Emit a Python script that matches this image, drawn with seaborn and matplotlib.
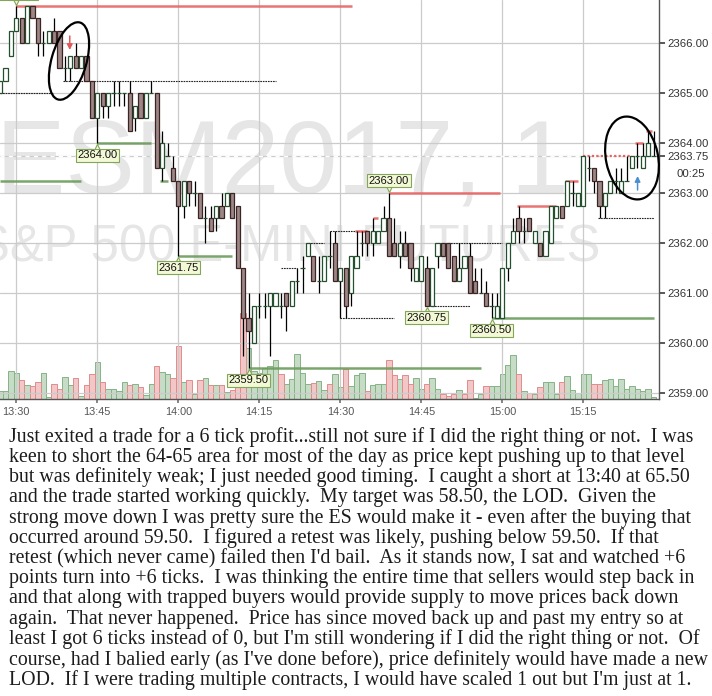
import pandas as pd
import seaborn as sns
import matplotlib.pyplot as plt
import matplotlib.transforms as mtransforms
from matplotlib.patches import Ellipse

# barras de 1 minuto, contadas a partir de 13:30 (ESM2017)
minutos = list(range(-3, 119))

abertura = [
    2365.0, 2365.25, 2365.75, 2366.25, 2366.5, 2366.0, 2366.75, 2366.5, 2366.0, 2366.0,
    2366.25, 2366.25, 2365.5, 2365.5, 2365.75, 2365.5, 2365.75, 2365.25, 2364.5, 2365.0,
    2364.75, 2365.0, 2365.0, 2365.0, 2365.0, 2364.5, 2365.0, 2364.5, 2365.0, 2365.0,
    2363.5, 2363.75, 2363.5, 2363.25, 2362.75, 2363.25, 2363.0, 2363.0, 2362.5, 2362.5,
    2362.5, 2362.75, 2362.75, 2363.0, 2362.75, 2361.5, 2360.5, 2360.0, 2360.75, 2360.75,
    2360.75, 2360.75, 2360.75, 2361.0, 2360.75, 2361.25, 2361.5, 2361.75, 2361.75, 2361.25,
    2361.25, 2361.75, 2362.0, 2361.25, 2361.5, 2361.0, 2361.5, 2362.0, 2362.25, 2362.0,
    2362.0, 2362.25, 2362.5, 2362.0, 2361.75, 2362.0, 2362.0, 2361.25, 2361.25, 2361.5,
    2360.75, 2361.75, 2362.0, 2362.0, 2361.75, 2361.25, 2361.5, 2361.75, 2361.25, 2361.0,
    2361.0, 2360.75, 2360.5, 2360.5, 2361.5, 2362.0, 2362.5, 2362.25, 2362.5, 2362.0,
    2362.0, 2361.75, 2362.0, 2362.5, 2362.75, 2362.75, 2363.0, 2362.75, 2362.75, 2363.5,
    2363.5, 2363.25, 2362.75, 2363.0, 2363.25, 2363.0, 2363.25, 2363.5, 2363.75, 2363.5,
    2363.75, 2363.75]
maxima = [
    2365.25, 2365.5, 2366.25, 2366.75, 2366.5, 2366.75, 2366.75, 2366.5, 2366.25, 2366.25,
    2366.5, 2366.25, 2365.75, 2365.75, 2366.0, 2365.75, 2365.75, 2365.25, 2365.0, 2365.0,
    2365.0, 2365.25, 2365.25, 2365.0, 2365.25, 2364.75, 2365.0, 2365.0, 2365.25, 2365.0,
    2364.25, 2364.0, 2363.75, 2363.25, 2363.25, 2363.25, 2363.25, 2363.0, 2362.75, 2362.75,
    2362.75, 2363.0, 2363.0, 2363.0, 2362.75, 2361.5, 2361.0, 2360.75, 2361.0, 2361.0,
    2361.0, 2361.0, 2361.0, 2361.0, 2361.25, 2361.5, 2361.75, 2362.0, 2361.75, 2361.75,
    2361.75, 2362.25, 2362.25, 2361.5, 2361.5, 2361.75, 2362.25, 2362.25, 2362.25, 2362.5,
    2362.25, 2362.75, 2363.0, 2362.5, 2362.25, 2362.25, 2362.0, 2361.5, 2361.75, 2361.75,
    2361.5, 2362.0, 2362.0, 2362.0, 2361.75, 2362.0, 2361.75, 2362.0, 2361.5, 2361.5,
    2361.25, 2361.0, 2361.0, 2361.5, 2362.0, 2362.5, 2362.75, 2362.5, 2362.5, 2362.25,
    2362.0, 2362.25, 2362.75, 2362.75, 2362.75, 2363.25, 2363.25, 2363.0, 2363.75, 2363.75,
    2363.5, 2363.25, 2363.0, 2363.25, 2363.5, 2363.5, 2363.75, 2363.75, 2364.0, 2364.0,
    2364.25, 2364.25]
minima = [
    2365.0, 2365.25, 2365.75, 2366.25, 2366.0, 2366.0, 2366.5, 2365.75, 2365.75, 2366.0,
    2366.0, 2365.5, 2365.25, 2365.25, 2365.5, 2365.5, 2365.25, 2364.5, 2364.0, 2364.5,
    2364.5, 2364.75, 2364.75, 2364.75, 2364.25, 2364.25, 2364.5, 2364.5, 2365.0, 2363.5,
    2363.25, 2363.75, 2363.25, 2361.75, 2362.5, 2362.75, 2362.75, 2362.5, 2362.0, 2362.25,
    2362.25, 2362.5, 2362.75, 2362.5, 2361.5, 2359.75, 2359.5, 2360.0, 2360.5, 2360.5,
    2359.75, 2360.75, 2360.5, 2360.25, 2360.75, 2361.0, 2361.0, 2361.75, 2361.25, 2361.0,
    2361.25, 2361.5, 2361.25, 2360.5, 2360.5, 2360.75, 2361.5, 2361.75, 2361.75, 2361.75,
    2362.0, 2362.25, 2361.75, 2361.75, 2361.5, 2361.75, 2361.25, 2361.25, 2361.25, 2360.75,
    2360.75, 2361.5, 2361.75, 2361.5, 2361.25, 2361.25, 2361.5, 2361.0, 2361.0, 2361.0,
    2360.75, 2360.5, 2360.5, 2360.5, 2361.25, 2362.0, 2362.0, 2362.0, 2362.25, 2362.0,
    2361.75, 2361.75, 2362.0, 2362.5, 2362.5, 2362.75, 2362.75, 2362.75, 2362.75, 2363.25,
    2363.0, 2362.5, 2362.5, 2363.0, 2363.0, 2363.0, 2363.25, 2363.5, 2363.5, 2363.5,
    2363.75, 2363.75]
fechamento = [
    2365.25, 2365.5, 2366.25, 2366.5, 2366.0, 2366.75, 2366.5, 2366.0, 2366.0, 2366.25,
    2366.0, 2365.5, 2365.5, 2365.75, 2365.5, 2365.75, 2365.25, 2364.5, 2365.0, 2364.75,
    2365.0, 2365.0, 2365.0, 2365.0, 2364.25, 2364.75, 2364.5, 2365.0, 2365.0, 2363.5,
    2364.0, 2363.75, 2363.25, 2362.75, 2363.25, 2363.0, 2363.0, 2362.5, 2362.5, 2362.25,
    2362.75, 2362.5, 2363.0, 2362.5, 2361.5, 2360.5, 2360.25, 2360.75, 2360.75, 2360.75,
    2361.0, 2361.0, 2360.75, 2360.75, 2361.25, 2361.25, 2361.5, 2362.0, 2361.25, 2361.25,
    2361.75, 2361.75, 2361.25, 2361.5, 2360.75, 2361.75, 2361.75, 2362.0, 2362.0, 2362.25,
    2362.25, 2362.5, 2361.75, 2361.75, 2362.0, 2361.75, 2361.5, 2361.5, 2361.75, 2360.75,
    2361.5, 2362.0, 2361.75, 2361.5, 2361.25, 2361.5, 2361.75, 2361.0, 2361.0, 2361.0,
    2360.75, 2360.75, 2360.75, 2361.5, 2362.0, 2362.25, 2362.25, 2362.25, 2362.25, 2362.25,
    2361.75, 2362.25, 2362.75, 2362.75, 2362.5, 2363.25, 2363.0, 2363.0, 2363.75, 2363.5,
    2363.25, 2362.75, 2363.0, 2363.25, 2363.25, 2363.25, 2363.25, 2363.75, 2363.75, 2363.75,
    2364.0, 2363.75]
volume = [
    320, 320, 1120, 1040, 760, 560, 520, 680, 1040, 80,
    600, 400, 880, 560, 840, 120, 560, 1000, 1480, 680,
    400, 400, 320, 680, 560, 600, 480, 160, 600, 1320,
    1080, 1000, 840, 2120, 680, 760, 200, 760, 840, 560,
    560, 560, 280, 360, 560, 3440, 2040, 1120, 1040, 1240,
    1320, 1560, 1000, 600, 800, 1800, 1040, 600, 640, 720,
    360, 600, 1000, 480, 1200, 520, 960, 1040, 320, 560,
    600, 600, 1560, 960, 800, 960, 600, 840, 400, 600,
    840, 400, 200, 120, 200, 360, 200, 760, 40, 200,
    520, 520, 520, 1000, 1360, 1760, 1000, 320, 240, 200,
    480, 680, 680, 200, 680, 920, 360, 240, 1000, 1000,
    600, 600, 760, 800, 520, 800, 400, 520, 400, 320,
    400, 80]
cor_volume = list("ggggrgrrgg" "rrggrgrrgr" "ggggrgrggr" "ggrrgrgrgr"
                  "grgrrrgggg" "ggrgggggrg" "grggrgggrg" "ggrrgrrggr"
                  "ggrrrgrrgg" "rgggggrgrg" "rgggrggggg" "rrgggggggg" "gg")

horarios = ['13:30', '13:45', '14:00', '14:15', '14:30', '14:45', '15:00', '15:15']
precos_eixo = [2359, 2360, 2361, 2362, 2363, 2364, 2365, 2366]
preco_atual = 2363.75

# maximas / minimas marcadas com etiqueta
rotulo_minuto = [0, 15, 30, 43, 69, 76, 88]
rotulo_preco = [2366.75, 2364.00, 2361.75, 2359.50, 2363.00, 2360.75, 2360.50]
rotulo_tipo = ['alta', 'baixa', 'baixa', 'baixa', 'alta', 'baixa', 'baixa']

# linhas horizontais (preco, minuto inicial, minuto final, tipo)
linha_preco = [2366.75, 2365.0, 2365.25, 2364.0, 2363.25, 2361.75, 2359.5, 2360.5, 2360.75, 2360.5,
               2363.0, 2362.75, 2362.0, 2362.5, 2363.75, 2363.25, 2362.25, 2362.0, 2361.5, 2364.0,
               2364.25, 2362.25, 2362.5, 2363.25]
linha_ini = [0, -3, 8.6, 15, -3, 30, 43, 60, 77, 88,
             69, 92.7, 80, 107.7, 105, 101.6, 58, 54, 49, 114.6,
             116.6, 62.7, 66, 26.6]
linha_fim = [62.2, 6.8, 48, 25, 12, 40, 86, 70, 84, 118,
             89.6, 100, 90, 118, 114, 104, 65, 57, 52, 116,
             117.7, 65, 67, 28]
linha_tipo = ['alta', 'aux', 'aux', 'baixa', 'baixa', 'baixa', 'baixa', 'aux', 'aux', 'baixa',
              'alta', 'alta', 'aux', 'aux', 'pont', 'alta', 'aux', 'aux', 'aux', 'alta',
              'alta', 'alta', 'alta', 'baixa']

linhas_texto = [
    "Just exited a trade for a 6 tick profit...still not sure if I did the right thing or not.  I was",
    "keen to short the 64-65 area for most of the day as price kept pushing up to that level",
    "but was definitely weak; I just needed good timing.  I caught a short at 13:40 at 65.50",
    "and the trade started working quickly.  My target was 58.50, the LOD.  Given the",
    "strong move down I was pretty sure the ES would make it - even after the buying that",
    "occurred around 59.50.  I figured a retest was likely, pushing below 59.50.  If that",
    "retest (which never came) failed then I'd bail.  As it stands now, I sat and watched +6",
    "points turn into +6 ticks.  I was thinking the entire time that sellers would step back in",
    "and that along with trapped buyers would provide supply to move prices back down",
    "again.  That never happened.  Price has since moved back up and past my entry so at",
    "least I got 6 ticks instead of 0, but I'm still wondering if I did the right thing or not.  Of",
    "course, had I balied early (as I've done before), price definitely would have made a new",
    "LOD.  If I were trading multiple contracts, I would have scaled 1 out but I'm just at 1.",
]

df = pd.DataFrame({'minuto': minutos, 'abertura': abertura, 'maxima': maxima,
                   'minima': minima, 'fechamento': fechamento,
                   'volume': volume, 'cor': cor_volume})

sns.set_theme(style='white')
plt.rcParams['font.family'] = ['Liberation Sans', 'DejaVu Sans']

W, H = 712, 696
fig = plt.figure(figsize=(W / 100, H / 100), dpi=100)
ret = [0, 1 - 399 / H, 659 / W, 399 / H]
xlim = (-16.3 / 5.4, (659 - 16.3) / 5.4)
ylim = (2359 + (393 - 399) / 50, 2359 + 393 / 50)

# eixo de baixo: marca d'agua e volume
axv = fig.add_axes(ret)
axv.set_facecolor('white')
axv.text(569 / 659, 1 - 193 / 399, 'ESM2017, 1', transform=axv.transAxes,
         ha='right', va='baseline', fontsize=75, color='#e6e6e6', zorder=0)
axv.text(600 / 659, 1 - 262 / 399, 'S&P 500 E-MINI FUTURES', transform=axv.transAxes,
         ha='right', va='baseline', fontsize=36.5, color='#e6e6e6', zorder=0)
sns.barplot(data=df, x='minuto', y='volume', hue='cor',
            palette={'g': '#c2e0c2', 'r': '#f8c0c0'}, native_scale=True,
            dodge=False, width=1, errorbar=None, legend=False,
            linewidth=0.7, ax=axv)
for p in axv.patches:
    fc = p.get_facecolor()
    p.set_edgecolor('#86b486' if fc[1] > fc[0] else '#e08c8c')
axv.set_xlim(xlim)
axv.set_ylim(0, 399 * 40)
axv.set_xticks([])
axv.set_yticks([])
axv.set_xlabel('')
axv.set_ylabel('')
for s in axv.spines.values():
    s.set_visible(False)

# eixo de cima: candles
ax = fig.add_axes(ret)
ax.patch.set_visible(False)
ax.set_xlim(xlim)
ax.set_ylim(ylim)
ax.grid(True, color='#cbcbcb', lw=0.9)
ax.set_axisbelow(True)

ax.axhline(preco_atual, color='white', lw=1, ls=(0, (3, 3)), zorder=1.5)

estilo = {'alta': dict(color='#e86464', lw=1.8, alpha=0.9),
          'baixa': dict(color='#6c9c5c', lw=1.8, alpha=0.9),
          'aux': dict(color='#222222', lw=0.8, ls=(0, (1.5, 0.8))),
          'pont': dict(color='#e86464', lw=1.6, ls=(0, (1, 1)))}
for p, a, b, t in zip(linha_preco, linha_ini, linha_fim, linha_tipo):
    ax.hlines(p, a, b, zorder=2, **estilo[t])

sobe = df['fechamento'] >= df['abertura']
ax.vlines(df['minuto'], df['minima'], df['maxima'], color='black', lw=0.9, zorder=3)
corpo_base = df[['abertura', 'fechamento']].min(axis=1)
corpo_alt = (df['fechamento'] - df['abertura']).abs()
ax.bar(df['minuto'][sobe], corpo_alt[sobe], bottom=corpo_base[sobe], width=0.78,
       color='white', edgecolor='#24502e', linewidth=0.9, zorder=4)
ax.bar(df['minuto'][~sobe], corpo_alt[~sobe], bottom=corpo_base[~sobe], width=0.78,
       color='#9d8686', edgecolor='#3c2424', linewidth=0.9, zorder=4)

# etiquetas de maxima / minima
for m, p, t in zip(rotulo_minuto, rotulo_preco, rotulo_tipo):
    sinal = 1 if t == 'alta' else -1
    tri = mtransforms.offset_copy(ax.transData, fig=fig, x=0, y=sinal * 5, units='dots')
    ax.plot(m, p, marker='v' if t == 'alta' else '^', ms=6, mfc='#f3f9d6',
            mec='#83a65a', mew=0.8, transform=tri, zorder=6, clip_on=False)
    ax.annotate(f'{p:.2f}', xy=(m, p), xytext=(0, sinal * 8.8), textcoords='offset points',
                ha='center', va='center', fontsize=8, color='#111111', zorder=7,
                annotation_clip=False,
                bbox=dict(boxstyle='square,pad=0.15', fc='#f3f9d6', ec='#83a65a', lw=0.8))

# setas de entrada (venda) e saida (compra)
ax.annotate('', xy=(9.9, 2365.86), xytext=(9.9, 2366.14),
            arrowprops=dict(arrowstyle='-|>', mutation_scale=8, color='#e05a5a', lw=1.1,
                            shrinkA=0, shrinkB=0), zorder=6)
ax.annotate('', xy=(115.05, 2363.34), xytext=(115.05, 2363.06),
            arrowprops=dict(arrowstyle='-|>', mutation_scale=8, color='#4a8fd0', lw=1.1,
                            shrinkA=0, shrinkB=0), zorder=6)

ax.set_xticks([0, 15, 30, 45, 60, 75, 90, 105])
ax.set_xticklabels(horarios)
ax.yaxis.tick_right()
ax.set_yticks(precos_eixo + [preco_atual])
ax.set_yticklabels([f'{v:.2f}' for v in precos_eixo + [preco_atual]])
ax.tick_params(axis='y', which='both', right=True, length=4, pad=2, colors='#444444',
               labelsize=8.2, labelcolor='#333333')
ax.tick_params(axis='x', which='both', bottom=True, length=3, pad=3, colors='#777777',
               labelsize=7.8, labelcolor='#555555')
ax.text(705 / 659, 2363.39, '00:25', transform=ax.get_yaxis_transform(),
        ha='right', va='center', fontsize=8.2, color='#333333')
for lado in ['left', 'top']:
    ax.spines[lado].set_visible(False)
for lado in ['right', 'bottom']:
    ax.spines[lado].set_color('#555555')
    ax.spines[lado].set_linewidth(1)

# rabiscos a mao (em pixels)
sob = fig.add_axes([0, 0, 1, 1])
sob.set_xlim(0, W)
sob.set_ylim(H, 0)
sob.axis('off')
sob.add_patch(Ellipse((69, 61), 35, 80, angle=16, fill=False, ec='black', lw=1.6))
sob.add_patch(Ellipse((632, 158), 52, 84, angle=-12, fill=False, ec='black', lw=1.6))

# texto do post
fig.canvas.draw()
r = fig.canvas.get_renderer()
t0 = fig.text(9 / W, 1 - 437 / H, linhas_texto[0], fontsize=12, family='Liberation Serif')
larg = t0.get_window_extent(r).width
t0.remove()
tam = 12 * 682 / larg
for i, lin in enumerate(linhas_texto):
    fig.text(9 / W, 1 - (437 + 20.25 * i) / H, lin, fontsize=tam, va='center',
             family='Liberation Serif', color='#1c1c1c')

fig.savefig('out.png', dpi=100)
